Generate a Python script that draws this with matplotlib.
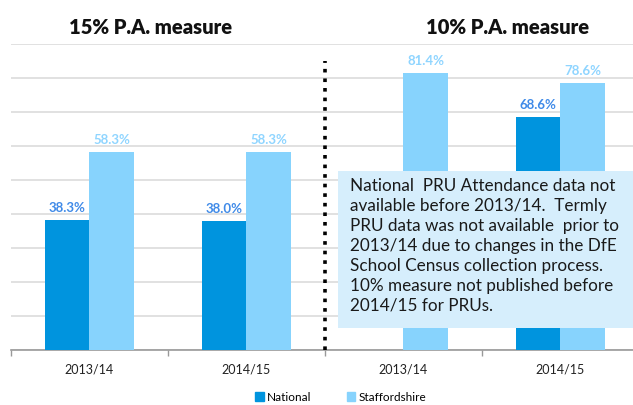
import matplotlib
matplotlib.use('Agg')
import matplotlib.pyplot as plt
from matplotlib.patches import Patch, Rectangle
import numpy as np

plt.rcParams['font.family'] = ['Lato', 'DejaVu Sans']

# Data
categories = ['2013/14', '2014/15', '2013/14', '2014/15']
national = [38.3, 38.0, np.nan, 68.6]
staffordshire = [58.3, 58.3, 81.4, 78.6]
panel_titles = ['15% P.A. measure', '10% P.A. measure']
note = ("National  PRU Attendance data not\n"
        "available before 2013/14.  Termly\n"
        "PRU data was not available  prior to\n"
        "2013/14 due to changes in the DfE\n"
        "School Census collection process.\n"
        "10% measure not published before\n"
        "2014/15 for PRUs.")

nat_color = '#0094DE'
staff_color = '#87D3FD'

fig = plt.figure(figsize=(6.33, 4.06), dpi=100)
ax = fig.add_axes([11 / 633, 55 / 406, 628 / 633, 306 / 406])

x = np.arange(len(categories))
w = 0.283
ax.bar(x - w / 2, national, w, color=nat_color, zorder=3)
ax.bar(x + w / 2, staffordshire, w, color=staff_color, zorder=3)

for xi, v in zip(x, national):
    if not np.isnan(v):
        ax.annotate(f'{v:.1f}%', (xi - w / 2, v), xytext=(0, 5), textcoords='offset points',
                    ha='center', va='bottom', fontsize=9.5, fontweight='bold', color='#3F8AE8')
for xi, v in zip(x, staffordshire):
    ax.annotate(f'{v:.1f}%', (xi + w / 2, v), xytext=(0, 5), textcoords='offset points',
                ha='center', va='bottom', fontsize=9.5, fontweight='bold', color='#8FD5FF')

ax.set_xlim(-0.5, 3.5)
ax.set_ylim(0, 90)
ax.set_yticks(np.arange(0, 91, 10))
ax.yaxis.grid(True, color='#DCDCDC', linewidth=1.2, zorder=0)
ax.tick_params(axis='y', left=False, labelleft=False)
ax.set_xticks(np.arange(-0.5, 4, 1))
ax.set_xticklabels([])
ax.set_xticks(x, minor=True)
ax.set_xticklabels(categories, minor=True, fontsize=9, color='#222222')
ax.tick_params(axis='x', which='major', length=4, color='#999999', width=1)
ax.tick_params(axis='x', which='minor', length=0, pad=9)
for s in ['top', 'right', 'left']:
    ax.spines[s].set_visible(False)
ax.spines['bottom'].set_color('#999999')
ax.spines['bottom'].set_linewidth(1.2)
ax.set_axisbelow(True)

# dotted divider between the two measures
ax.vlines(1.5, 0, 85, colors='black', linestyles=':', linewidth=2.6, zorder=4)

# panel titles
fig.text(151 / 633, 1 - 27 / 406, panel_titles[0], ha='center', va='center',
         fontsize=14.5, fontweight='heavy', color='#111111')
fig.text(508 / 633, 1 - 27 / 406, panel_titles[1], ha='center', va='center',
         fontsize=14.5, fontweight='heavy', color='#111111')

# note box
fig.patches.append(Rectangle((338 / 633, 77 / 406), 300 / 633, 157 / 406,
                             transform=fig.transFigure, facecolor='#D6EEFC',
                             edgecolor='none', zorder=5))
fig.text(350 / 633, 1 - 178 / 406, note, ha='left', va='top', fontsize=12.3,
         color='#1a1a1a', linespacing=1.3, zorder=6)

handles = [Patch(color=nat_color, label='National'),
           Patch(color=staff_color, label='Staffordshire')]
fig.legend(handles=handles, loc='center', bbox_to_anchor=(341 / 633, 1 - 398 / 406),
           ncol=2, frameon=False, fontsize=8.5, handlelength=0.7, handleheight=0.7,
           handletextpad=0.3, columnspacing=3.0)

fig.savefig('out.png', dpi=100)
